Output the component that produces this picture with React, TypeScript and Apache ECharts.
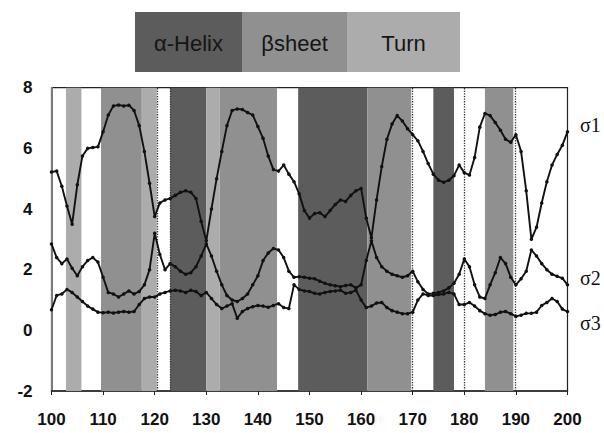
import React, { useEffect, useRef } from "react";
import * as echarts from "echarts";

// residue numbers (x)
const residues = [
  100, 101, 102, 103, 104, 105, 106, 107, 108, 109,
  110, 111, 112, 113, 114, 115, 116, 117, 118, 119,
  120, 121, 122, 123, 124, 125, 126, 127, 128, 129,
  130, 131, 132, 133, 134, 135, 136, 137, 138, 139,
  140, 141, 142, 143, 144, 145, 146, 147, 148, 149,
  150, 151, 152, 153, 154, 155, 156, 157, 158, 159,
  160, 161, 162, 163, 164, 165, 166, 167, 168, 169,
  170, 171, 172, 173, 174, 175, 176, 177, 178, 179,
  180, 181, 182, 183, 184, 185, 186, 187, 188, 189,
  190, 191, 192, 193, 194, 195, 196, 197, 198, 199,
  200,
];

const sigma1 = [
  5.22, 5.25, 4.75, 4.1, 3.5, 4.8, 5.75, 6.0, 6.03, 6.05,
  6.55, 7.1, 7.4, 7.43, 7.4, 7.42, 7.25, 6.75, 5.9, 4.85,
  3.75, 4.2, 4.3, 4.35, 4.45, 4.55, 4.6, 4.55, 4.35, 3.6,
  2.95, 4.0, 5.0, 5.9, 6.75, 7.25, 7.3, 7.28, 7.18, 7.1,
  6.72, 6.33, 5.75, 5.3, 5.25, 5.45, 5.15, 4.9, 4.5, 3.95,
  3.7, 3.85, 3.88, 3.75, 3.95, 4.15, 4.3, 4.25, 4.45, 4.6,
  4.68, 3.7, 3.05, 4.3, 5.4, 6.3, 6.8, 7.08, 6.9, 6.65,
  6.45, 6.25, 5.9, 5.5, 5.15, 4.95, 4.88, 4.95, 5.1, 5.45,
  5.2, 5.12, 5.7, 6.7, 7.15, 7.08, 6.85, 6.6, 6.3, 6.2,
  6.45, 5.9, 4.6, 3.0, 3.4, 4.2, 4.9, 5.45, 5.8, 6.1,
  6.55,
];

const sigma2 = [
  2.85, 2.4, 2.2, 2.35, 2.05, 1.8, 2.1, 2.3, 2.4, 2.25,
  1.75, 1.25, 1.2, 1.1, 1.2, 1.3, 1.2, 1.28, 1.5, 2.0,
  3.2, 2.5, 2.0, 2.2, 2.1, 1.95, 1.85, 1.9, 2.1, 2.45,
  2.85, 2.45, 1.95, 1.5, 1.15, 1.0, 0.95, 1.05, 1.2, 1.5,
  1.8, 2.3, 2.55, 2.7, 2.65, 2.4, 1.95, 1.75, 1.77, 1.75,
  1.72, 1.7, 1.62, 1.55, 1.5, 1.47, 1.44, 1.48, 1.5, 1.4,
  1.5, 2.3, 2.95, 2.4, 2.1, 1.95, 1.85, 1.8, 1.75, 1.8,
  1.95, 1.6, 1.35, 1.2, 1.22, 1.25, 1.3, 1.4, 1.55, 1.85,
  2.35, 2.1, 1.5, 1.1, 1.05, 1.5, 1.9, 2.4, 2.2, 1.75,
  1.5, 1.7, 1.95, 2.65, 2.45, 2.2, 2.0, 1.85, 1.78, 1.72,
  1.5,
];

const sigma3 = [
  0.68, 1.15, 1.2, 1.35, 1.25, 1.1, 0.95, 0.8, 0.7, 0.6,
  0.58, 0.6, 0.57, 0.6, 0.62, 0.6, 0.62, 0.85, 1.05, 1.1,
  1.1, 1.2, 1.25, 1.3, 1.32, 1.3, 1.25, 1.32, 1.28, 1.15,
  1.25, 1.05, 0.85, 0.72, 0.8, 0.88, 0.4, 0.62, 0.72, 0.78,
  0.82, 0.8, 0.76, 0.82, 0.88, 0.75, 0.72, 1.5, 1.35, 1.3,
  1.28, 1.22, 1.2, 1.25, 1.28, 1.3, 1.32, 1.22, 1.25, 1.32,
  1.0, 0.75, 0.8, 0.9, 0.92, 0.75, 0.65, 0.6, 0.55, 0.55,
  0.6, 1.0, 1.2, 1.15, 1.15, 1.18, 1.2, 1.25, 1.2, 0.85,
  0.85, 0.92, 0.8, 0.65, 0.55, 0.5, 0.52, 0.6, 0.62, 0.55,
  0.46, 0.5, 0.56, 0.56, 0.6, 0.82, 0.92, 1.05, 0.95, 0.7,
  0.62,
];

// secondary-structure bands
const bandStarts = [102.8, 109.6, 117.5, 123.0, 130.0, 132.6, 147.8, 161.2, 174.0, 184.0];
const bandEnds = [105.8, 117.5, 120.4, 130.0, 132.6, 143.7, 161.2, 169.7, 178.0, 189.5];
const bandTypes = ["turn", "sheet", "turn", "helix", "turn", "sheet", "helix", "sheet", "helix", "sheet"];

const structureTypes = ["helix", "sheet", "turn"];
const structureLabels = ["α-Helix", "βsheet", "Turn"];
const structureColors = ["#5c5c5c", "#909090", "#acacac"];

const dividerLines = [120.4, 123, 170, 180, 189.8];

const seriesNames = ["σ1", "σ2", "σ3"];

export default function App() {
  const ref = useRef<HTMLDivElement>(null);

  useEffect(() => {
    if (!ref.current) return;
    const chart = echarts.init(ref.current, undefined, { renderer: "svg" });

    const colorOf = (t: string) => structureColors[structureTypes.indexOf(t)];
    const bandData = bandStarts.map((s, i) => [
      { xAxis: s, itemStyle: { color: colorOf(bandTypes[i]), opacity: 1 } },
      { xAxis: bandEnds[i] },
    ]);

    const toPairs = (vals: number[]) => residues.map((x, i) => [x, vals[i]]);
    const allSeries = [sigma1, sigma2, sigma3];

    const lineColor = "#111";

    const legendX = [135, 242, 347];
    const legendW = [107, 105, 113];

    const graphics: any[] = [];
    structureLabels.forEach((lab, i) => {
      graphics.push({
        type: "rect",
        left: legendX[i],
        top: 12,
        shape: { width: legendW[i], height: 60 },
        style: { fill: structureColors[i] },
        z: 10,
      });
    });
    structureLabels.forEach((lab, i) => {
      graphics.push({
        type: "text",
        x: legendX[i] + legendW[i] / 2,
        y: 43,
        style: {
          text: lab,
          fill: "#151515",
          font: "22px 'Liberation Sans', Arial, sans-serif",
          align: "center",
          verticalAlign: "middle",
        },
        z: 11,
      });
    });
    const labelY = [125, 278, 323];
    seriesNames.forEach((n, i) => {
      graphics.push({
        type: "text",
        x: 580,
        y: labelY[i],
        style: {
          text: n,
          fill: "#111",
          font: "20px 'Liberation Serif', 'Times New Roman', serif",
          align: "left",
          verticalAlign: "middle",
        },
        z: 11,
      });
    });

    chart.setOption({
      animation: false,
      backgroundColor: "#fff",
      grid: {
        left: 51.5,
        right: 36.5,
        top: 87.7,
        bottom: 42,
        show: true,
        borderColor: "#222",
        borderWidth: 1.2,
        backgroundColor: "transparent",
      },
      xAxis: {
        type: "value",
        min: 100,
        max: 200,
        interval: 10,
        axisLine: { show: true, onZero: false, lineStyle: { color: "#222", width: 1.5 } },
        axisTick: { show: true, length: 4, lineStyle: { color: "#222" } },
        splitLine: { show: false },
        axisLabel: {
          color: "#111",
          fontSize: 17,
          fontWeight: "bold",
          fontFamily: "'Liberation Sans', Arial, sans-serif",
          margin: 20,
        },
      },
      yAxis: {
        type: "value",
        min: -2,
        max: 8,
        interval: 2,
        axisLine: { show: true, lineStyle: { color: "#7a7a7a", width: 2 } },
        axisTick: { show: false },
        splitLine: { show: false },
        axisLabel: {
          color: "#111",
          fontSize: 17,
          fontWeight: "bold",
          fontFamily: "'Liberation Sans', Arial, sans-serif",
          margin: 19,
        },
      },
      graphic: graphics,
      series: allSeries.map((vals, i) => ({
        name: seriesNames[i],
        type: "line",
        data: toPairs(vals),
        symbol: "circle",
        symbolSize: 3.5,
        showSymbol: true,
        lineStyle: { color: lineColor, width: 1.9 },
        itemStyle: { color: lineColor },
        z: 5,
        ...(i === 0
          ? {
              markArea: {
                silent: true,
                label: { show: false },
                data: bandData,
                z: 1,
              },
              markLine: {
                silent: true,
                symbol: "none",
                label: { show: false },
                lineStyle: { type: "dotted", color: "#333", width: 1.3 },
                data: dividerLines.map((x) => ({ xAxis: x })),
              },
            }
          : {}),
      })),
    });

    return () => chart.dispose();
  }, []);

  return (
    <div
      ref={ref}
      style={{ position: "fixed", left: 0, top: 0, width: 604, height: 433, background: "#fff" }}
    />
  );
}
